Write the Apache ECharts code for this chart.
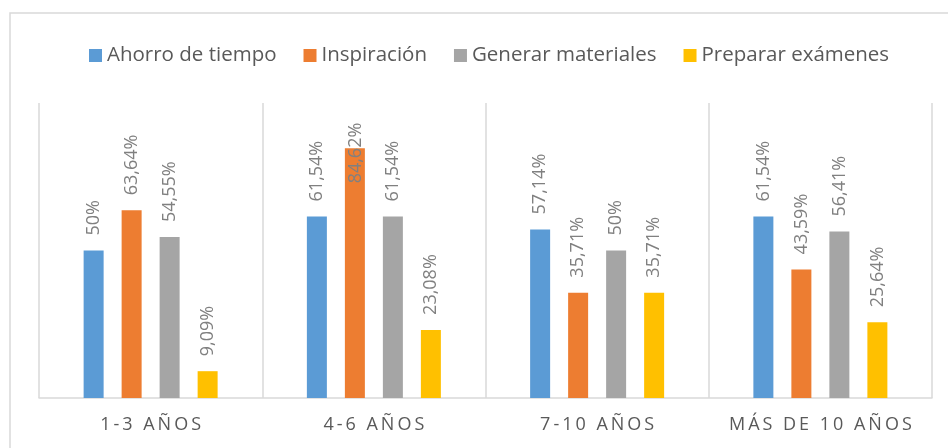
<!DOCTYPE html>
<html>
<head>
<meta charset="utf-8">
<script src="https://cdn.jsdelivr.net/npm/echarts@6/dist/echarts.min.js"></script>
<style>
  html, body { margin: 0; padding: 0; background: #fff; }
  #chart-container { width: 948px; height: 448px; }
</style>
</head>
<body>
<div id="chart-container"></div>
<script>
const categories = ['1-3 AÑOS', '4-6 AÑOS', '7-10 AÑOS', 'MÁS DE 10 AÑOS'];
const seriesNames = ['Ahorro de tiempo', 'Inspiración', 'Generar materiales', 'Preparar exámenes'];
const ahorro = [50, 61.54, 57.14, 61.54];
const inspiracion = [63.64, 84.62, 35.71, 43.59];
const generar = [54.55, 61.54, 50, 56.41];
const preparar = [9.09, 23.08, 35.71, 25.64];
const colors = ['#5B9BD5', '#ED7D31', '#A5A5A5', '#FFC000'];

const font = "'Open Sans', 'Noto Sans', sans-serif";

const pct = (v) => `${Number(v.toFixed(2)).toString().replace('.', ',')}%`;

const labelBase = {
  show: true,
  position: 'top',
  distance: 15,
  rotate: 90,
  align: 'left',
  verticalAlign: 'middle',
  color: '#808080',
  fontFamily: font,
  fontSize: 18,
  textBorderWidth: 0,
  formatter: (p) => pct(p.value)
};

const makeSeries = (name, values, i) => ({
  name,
  type: 'bar',
  barWidth: 20,
  barGap: '90%',
  itemStyle: { color: colors[i] },
  label: labelBase,
  data: values.map((v) => {
    // Excel pushed the tallest label down inside the plot area
    if (v > 80) {
      return { value: v, label: { position: [11, 35] } };
    }
    return v;
  })
});

const dom = document.getElementById('chart-container');
const myChart = echarts.init(dom, null, { renderer: 'canvas' });

const option = {
  animation: false,
  color: colors,
  graphic: [
    {
      type: 'rect',
      shape: { x: 10, y: 13, width: 960, height: 460 },
      style: { fill: 'none', stroke: '#d9d9d9', lineWidth: 1.5 },
      silent: true
    }
  ],
  legend: {
    left: 84,
    top: 40,
    itemWidth: 13,
    itemHeight: 13,
    itemGap: 27,
    icon: 'rect',
    textStyle: { color: '#595959', fontFamily: font, fontSize: 20.5 },
    data: seriesNames
  },
  grid: { left: 39, right: 16, top: 103, bottom: 50 },
  xAxis: {
    type: 'category',
    data: categories,
    axisLine: { lineStyle: { color: '#d9d9d9', width: 1.5 } },
    axisTick: { show: false },
    splitLine: { show: true, interval: 0, lineStyle: { color: '#d9d9d9', width: 1.5 } },
    axisLabel: {
      interval: 0,
      color: '#595959',
      fontFamily: font,
      fontSize: 18,
      margin: 18,
      formatter: (v) => v.split('').join('\u2009')
    }
  },
  yAxis: {
    type: 'value',
    min: 0,
    max: 100,
    show: false,
    splitLine: { show: false }
  },
  series: [
    makeSeries(seriesNames[0], ahorro, 0),
    makeSeries(seriesNames[1], inspiracion, 1),
    makeSeries(seriesNames[2], generar, 2),
    makeSeries(seriesNames[3], preparar, 3)
  ]
};

myChart.setOption(option);
window.addEventListener('resize', myChart.resize);
</script>
</body>
</html>
